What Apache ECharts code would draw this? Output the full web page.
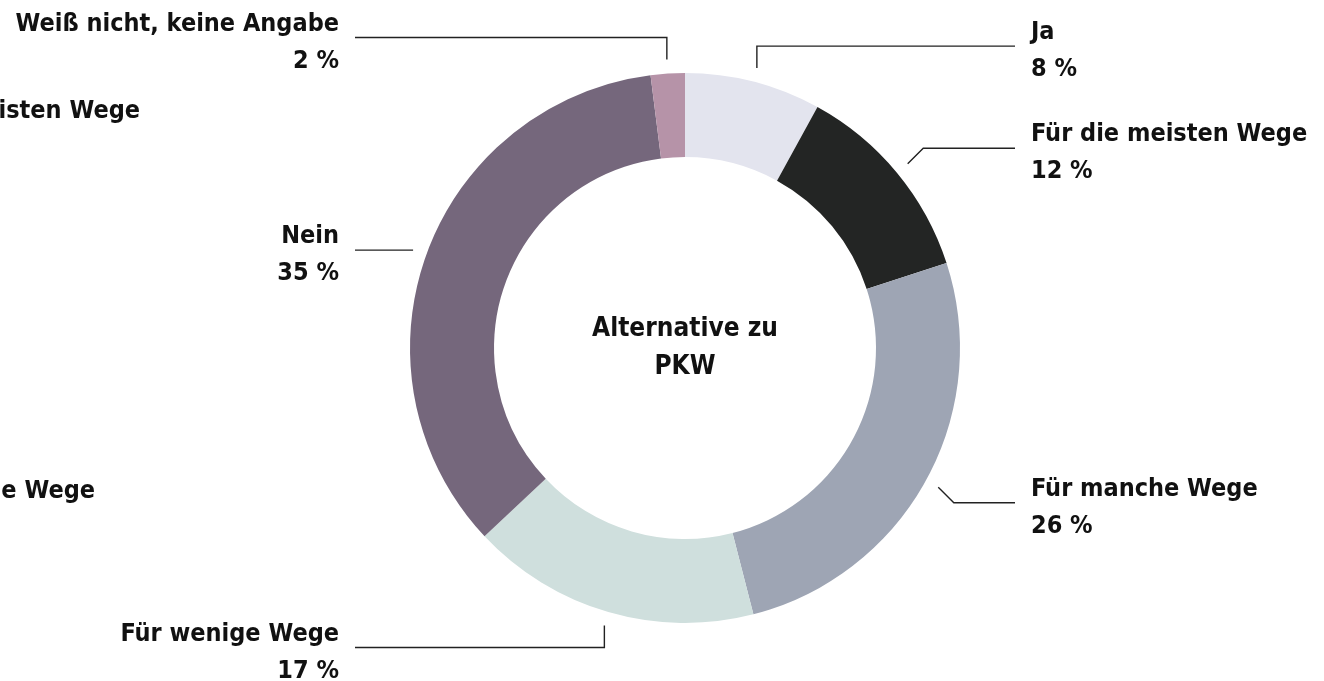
<!DOCTYPE html>
<html>
<head>
<meta charset="utf-8">
<style>
    html, body { margin: 0; padding: 0; background: #fff; }
    #main { width: 1324px; height: 681px; }
</style>
</head>
<body>
<div id="main"></div>
<script src="https://cdn.jsdelivr.net/npm/echarts@6/dist/echarts.min.js"></script>
<script>
    // Daten
    var categories = ['Ja', 'Für die meisten Wege', 'Für manche Wege', 'Für wenige Wege', 'Nein', 'Weiß nicht, keine Angabe'];
    var values = [8, 12, 26, 17, 35, 2];
    var colors = ['#e3e4ee', '#232524', '#9ea5b4', '#cfdfdd', '#75677c', '#b693a8'];
    var centerTitle = 'Alternative zu\nPKW';

    var FONT = "'DejaVu Sans Condensed', 'Liberation Sans Narrow', 'Roboto', sans-serif";
    var CX = 685, CY = 348;

    var myChart = echarts.init(document.getElementById('main'));

    var pieData = categories.map(function (name, i) {
        return { name: name, value: values[i], itemStyle: { color: colors[i] } };
    });

    // Führungslinie: Start außerhalb des Rings, Knick auf 45°-Raster, dann waagerecht
    function layoutLabel(params) {
        var pts = params.labelLinePoints;
        if (!pts) return {};
        var p0 = pts[0], p1 = pts[1];
        var ang = Math.atan2(p1[1] - p0[1], p1[0] - p0[0]);
        var snap = Math.round(ang / (Math.PI / 4)) * (Math.PI / 4);
        var len = 22;
        var bx = p1[0] + Math.cos(snap) * len;
        var by = p1[1] + Math.sin(snap) * len;
        var left = p1[0] < CX;
        var ex = left ? CX - 330 : CX + 330;
        return {
            x: left ? ex - 16 : ex + 16,
            y: by + 5,
            align: left ? 'right' : 'left',
            verticalAlign: 'middle',
            labelLinePoints: [[p1[0], p1[1]], [bx, by], [ex, by]]
        };
    }

    var option = {
        animation: false,
        graphic: [
            {
                type: 'text', x: CX, y: CY,
                style: {
                    text: centerTitle, textAlign: 'center', textVerticalAlign: 'middle',
                    font: 'bold 26px ' + FONT, lineHeight: 38, fill: '#111'
                }
            },
            // abgeschnittene Beschriftungen am linken Rand
            {
                type: 'text', x: 140, y: 111,
                style: { text: 'Für die meisten Wege', textAlign: 'right', textVerticalAlign: 'middle', font: 'bold 25px ' + FONT, fill: '#111' }
            },
            {
                type: 'text', x: 95, y: 491,
                style: { text: 'Für manche Wege', textAlign: 'right', textVerticalAlign: 'middle', font: 'bold 25px ' + FONT, fill: '#111' }
            }
        ],
        series: [{
            type: 'pie',
            center: [CX, CY],
            radius: [191, 275],
            startAngle: 90,
            clockwise: true,
            avoidLabelOverlap: false,
            data: pieData,
            label: {
                show: true,
                formatter: '{b}\n{c} %',
                fontFamily: FONT,
                fontWeight: 'bold',
                fontSize: 25,
                lineHeight: 37,
                color: '#111'
            },
            labelLine: {
                show: true,
                length: 14,
                length2: 20,
                lineStyle: { color: '#222', width: 1.4 }
            },
            labelLayout: layoutLabel,
            emphasis: { disabled: true }
        }]
    };

    myChart.setOption(option, true);
</script>
</body>
</html>
